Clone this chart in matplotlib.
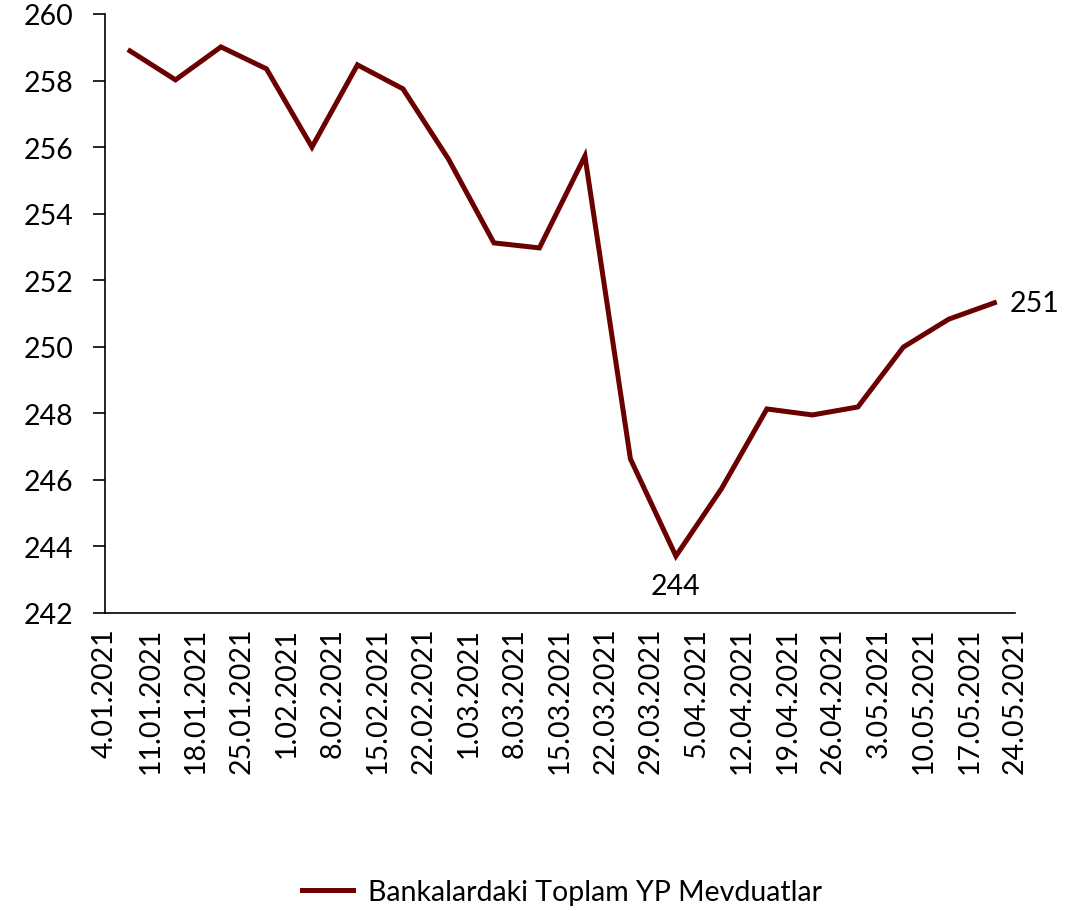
import matplotlib.pyplot as plt

# Data
dates = ["4.01.2021", "11.01.2021", "18.01.2021", "25.01.2021", "1.02.2021", "8.02.2021",
         "15.02.2021", "22.02.2021", "1.03.2021", "8.03.2021", "15.03.2021", "22.03.2021",
         "29.03.2021", "5.04.2021", "12.04.2021", "19.04.2021", "26.04.2021", "3.05.2021",
         "10.05.2021", "17.05.2021", "24.05.2021"]
deposits = [258.89, 258.02, 259.01, 258.35, 256.0, 258.47, 257.75, 255.64, 253.12, 252.97,
            255.73, 246.63, 243.71, 245.73, 248.13, 247.95, 248.19, 249.99, 250.83, 251.32]
series_name = "Bankalardaki Toplam YP Mevduatlar"

color = "#6B0000"
fs = 20.5
plt.rcParams['font.family'] = ['Lato', 'DejaVu Sans']

fig = plt.figure(figsize=(10.91, 9.12), dpi=100)
ax = fig.add_axes([0.0962, 0.3268, 0.834, 0.6568])

xs = [i + 0.55 for i in range(len(deposits))]
line, = ax.plot(xs, deposits, color=color, lw=3.6, solid_joinstyle='miter', label=series_name)

# Point labels
i_min = deposits.index(min(deposits))
ax.annotate(f"{round(deposits[i_min])}", (xs[i_min], deposits[i_min]), xytext=(0, -12),
            textcoords='offset points', ha='center', va='top', fontsize=fs)
ax.annotate(f"{round(deposits[-1])}", (xs[-1], deposits[-1]), xytext=(11, 0),
            textcoords='offset points', ha='left', va='center', fontsize=fs)

ax.set_ylim(242, 260)
ax.set_yticks(range(242, 261, 2))
ax.set_xlim(0, 20)
ax.set_xticks(range(len(dates)))
ax.set_xticklabels(dates, rotation=90, fontsize=fs)
ax.tick_params(axis='x', length=0, pad=10)
ax.tick_params(axis='y', length=9, width=1.2, labelsize=fs, pad=14)

for s in ['top', 'right']:
    ax.spines[s].set_visible(False)
for s in ['left', 'bottom']:
    ax.spines[s].set_linewidth(1.2)

fig.legend(handles=[line], loc='center', bbox_to_anchor=(0.515, 0.021), frameon=False,
           fontsize=fs, handlelength=1.8, handletextpad=0.5)

fig.savefig("out.png", dpi=100)
